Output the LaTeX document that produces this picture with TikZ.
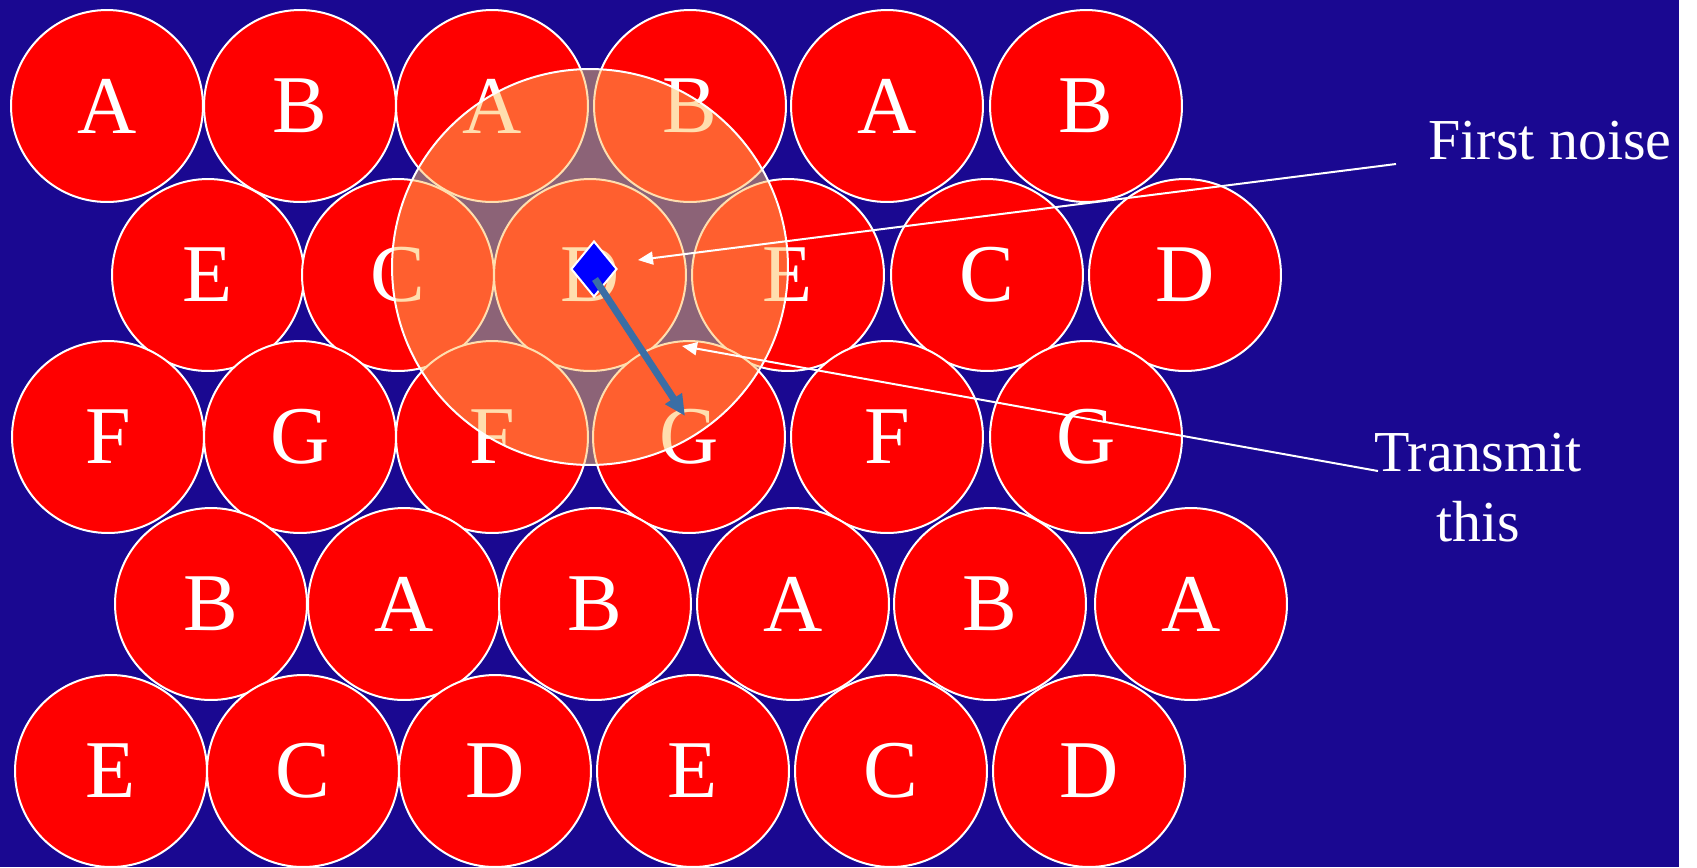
\documentclass[tikz,border=0pt]{standalone}
\usepackage{fontspec}
\setmainfont{Liberation Serif}
\usetikzlibrary{shapes.geometric,arrows.meta}

\definecolor{bgblue}{RGB}{26,8,145}
\definecolor{noisefill}{RGB}{255,190,95}
\definecolor{arrowblue}{RGB}{58,110,165}

\begin{document}
\begin{tikzpicture}[x=0.02cm, y=-0.02cm,
        cell/.style={circle, fill=red, draw=white, line width=0.04cm, minimum size=3.84cm, inner sep=0pt, text=white, font=\fontsize{46.7}{56}\selectfont},
        noise/.style={circle, fill=noisefill, fill opacity=0.5, draw=white, line width=0.04cm, minimum size=7.92cm, inner sep=0pt},
        note/.style={text=white, inner sep=0pt, font=\fontsize{33}{39.8}\selectfont},
        pointer/.style={draw=white, line width=0.04cm, -{Triangle[length=0.3cm, width=0.26cm]}}
    ]
        % Background
        \useasboundingbox (0,0) rectangle (1697,867);
        \fill[bgblue] (0,0) rectangle (1679,867);

        % Cells, row 1
        \node[cell] (r1c1) at (107,106) {A};
        \node[cell] (r1c2) at (300,106) {B};
        \node[cell] (r1c3) at (492,106) {A};
        \node[cell] (r1c4) at (690,106) {B};
        \node[cell] (r1c5) at (887,106) {A};
        \node[cell] (r1c6) at (1086,106) {B};

        % Cells, row 2
        \node[cell] (r2c1) at (208,275) {E};
        \node[cell] (r2c2) at (398,275) {C};
        \node[cell] (r2c3) at (590,275) {D};
        \node[cell] (r2c4) at (788,275) {E};
        \node[cell] (r2c5) at (987,275) {C};
        \node[cell] (r2c6) at (1185,275) {D};

        % Cells, row 3
        \node[cell] (r3c1) at (108,437) {F};
        \node[cell] (r3c2) at (300,437) {G};
        \node[cell] (r3c3) at (492,437) {F};
        \node[cell] (r3c4) at (689,437) {G};
        \node[cell] (r3c5) at (887,437) {F};
        \node[cell] (r3c6) at (1086,437) {G};

        % Cells, row 4
        \node[cell] (r4c1) at (211,604) {B};
        \node[cell] (r4c2) at (404,604) {A};
        \node[cell] (r4c3) at (595,604) {B};
        \node[cell] (r4c4) at (793,604) {A};
        \node[cell] (r4c5) at (990,604) {B};
        \node[cell] (r4c6) at (1191,604) {A};

        % Cells, row 5
        \node[cell] (r5c1) at (111,771) {E};
        \node[cell] (r5c2) at (303,771) {C};
        \node[cell] (r5c3) at (495,771) {D};
        \node[cell] (r5c4) at (693,771) {E};
        \node[cell] (r5c5) at (891,771) {C};
        \node[cell] (r5c6) at (1089,771) {D};

        % Noise area
        \node[noise] (area) at (590,267) {};

        % Mobile and its transmission
        \node[diamond, fill=blue, draw=white, line width=0.04cm, minimum width=0.92cm, minimum height=1.12cm, inner sep=0pt] (mobile) at (594,269) {};
        \coordinate (src) at (595,279);
        \coordinate (sent) at (685,416);
        \draw[arrowblue, line width=0.14cm, -{Triangle[length=0.42cm, width=0.38cm]}] (src) -- (sent);

        % Labels
        \node[note, anchor=base west] (first) at (1428,159) {First noise};
        \node[note, align=center] (transmit) at (1478,488) {Transmit\\this};

        % Pointers
        \coordinate (firstend) at (1396,164);
        \coordinate (firsttip) at (638,260);
        \coordinate (transend) at (1378,471);
        \coordinate (transtip) at (682,346);
        \draw[pointer] (firstend) -- (firsttip);
        \draw[pointer] (transend) -- (transtip);
    \end{tikzpicture}
\end{document}
